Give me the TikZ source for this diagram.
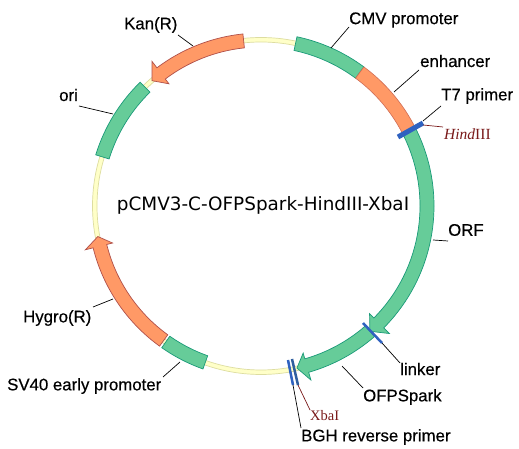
\documentclass[tikz,border=0pt]{standalone}
\usepackage{fontspec}
\setmainfont{Liberation Sans}
\newfontfamily\labfont{Liberation Sans}[FakeBold=0.4]
\newfontfamily\serifrm{Liberation Serif}
\newfontfamily\titlefont{DejaVu Sans}
\definecolor{gfill}{HTML}{66CC99}
\definecolor{gline}{HTML}{1A9A78}
\definecolor{ofill}{HTML}{FF9966}
\definecolor{oline}{HTML}{B0504A}
\definecolor{yfill}{HTML}{FFFFC8}
\definecolor{yline}{HTML}{DDDDA0}
\definecolor{site}{HTML}{7A1A1A}
\definecolor{blueA}{HTML}{2F62C0}
\definecolor{blueB}{HTML}{2F5F9F}
\tikzset{
  lab/.style={anchor=west,inner sep=0pt,font=\labfont\fontsize{16.8}{18}\selectfont,text=black},
  sitelab/.style={anchor=west,inner sep=0pt,text=site},
  leader/.style={draw=black,line width=0.7pt},
  siteline/.style={draw=site,line width=0.7pt},
  gband/.style={fill=gfill,draw=gline,line width=0.7pt},
  oband/.style={fill=ofill,draw=oline,line width=0.7pt},
  primer/.style={line width=5pt}
}
\newcommand{\myband}[3]{\path[#3] (#1:173) arc[start angle=#1,end angle=#2,radius=173pt] -- (#2:159) arc[start angle=#2,end angle=#1,radius=159pt] -- cycle;}
\newcommand{\myarrow}[4]{\path[#4] (#1:173) arc[start angle=#1,end angle=#2,radius=173pt] -- (#2:181) -- (#3:166) -- (#2:153) -- (#2:159) arc[start angle=#2,end angle=#1,radius=159pt] -- cycle;}
\begin{document}
\begin{tikzpicture}[x=1pt,y=1pt]
\useasboundingbox[fill=white] (0,0) rectangle (519,449);
\begin{scope}[shift={(261,243)}]
  \path[fill=yfill,draw=yline,line width=0.7pt,even odd rule] (0,0) circle[radius=168.5pt] (0,0) circle[radius=164pt];
  \myband{78}{53.5}{gband}
  \myband{53.5}{27}{fill=ofill,draw=oline!60!ofill,line width=0.6pt}
  \myarrow{27}{-44.8}{-49}{gband}
  \myarrow{-49}{-74}{-77.5}{gband}
  \myarrow{96}{127}{131}{oband}
  \myband{134.3}{162.8}{gband}
  \myarrow{234.1}{194}{190.6}{oband}
  \myband{235}{250.4}{gband}
\end{scope}
\coordinate (t7a) at (398,312);
\coordinate (t7b) at (423,326);
\coordinate (lka) at (363,126);
\coordinate (lkb) at (382,106);
\coordinate (bgha) at (288,89);
\coordinate (bghb) at (293,64);
\coordinate (xbaa) at (292,90);
\coordinate (xbab) at (298,64);
\draw[primer,blueA] (t7a) -- (t7b);
\draw[line width=2.5pt,blueA] (lka) -- (lkb);
\draw[line width=2.5pt,blueA] (bgha) -- (bghb);
\draw[line width=2.5pt,blueB] (xbaa) -- (xbab);
\node[lab] (lcmv) at (349,429) {CMV promoter};
\node[lab] (lenh) at (420,388) {enhancer};
\node[lab] (lt7) at (441,353) {T7 primer};
\node[sitelab,font=\serifrm\fontsize{15.5}{17}\selectfont] (lhind) at (444,315) {\textit{Hind}III};
\node[lab] (lorf) at (448,219) {ORF};
\node[lab] (llink) at (400,80) {linker};
\node[lab] (lofp) at (363,52) {OFPSpark};
\node[sitelab,font=\serifrm\fontsize{14.5}{16}\selectfont] (lxba) at (310,33) {XbaI};
\node[lab] (lbgh) at (301,12) {BGH reverse primer};
\node[lab] (lkan) at (124,424) {Kan(R)};
\node[lab] (lori) at (59,354) {ori};
\node[lab] (lhyg) at (23,131) {Hygro(R)};
\node[lab] (lsv) at (7,63) {SV40 early promoter};
\node[anchor=center,inner sep=0pt,font=\titlefont\fontsize{18.4}{20}\selectfont] (ltitle) at (263,244) {pCMV3-C-OFPSpark-HindIII-XbaI};
\coordinate (a1) at (349,422); \coordinate (b1) at (331,401);
\coordinate (a2) at (419,379); \coordinate (b2) at (394,357);
\coordinate (a3) at (441,343); \coordinate (b3) at (423,328);
\coordinate (a4) at (423,324); \coordinate (b4) at (443,322);
\coordinate (a5) at (448,208); \coordinate (b5) at (433,209);
\coordinate (a6) at (400,86);  \coordinate (b6) at (382,106);
\coordinate (a7) at (363,61);  \coordinate (b7) at (342,83);
\coordinate (a8) at (310,39);  \coordinate (b8) at (298,64);
\coordinate (a9) at (301,21);  \coordinate (b9) at (293,64);
\coordinate (a10) at (178,414); \coordinate (b10) at (193,403);
\coordinate (a11) at (79,343);  \coordinate (b11) at (113,335);
\coordinate (a12) at (93,142);  \coordinate (b12) at (113,150);
\coordinate (a13) at (163,72);  \coordinate (b13) at (180,87);
\draw[leader] (a1) -- (b1);
\draw[leader] (a2) -- (b2);
\draw[leader] (a3) -- (b3);
\draw[siteline] (a4) -- (b4);
\draw[leader] (a5) -- (b5);
\draw[leader] (a6) -- (b6);
\draw[leader] (a7) -- (b7);
\draw[siteline] (a8) -- (b8);
\draw[leader] (a9) -- (b9);
\draw[leader] (a10) -- (b10);
\draw[leader] (a11) -- (b11);
\draw[leader] (a12) -- (b12);
\draw[leader] (a13) -- (b13);
\end{tikzpicture}
\end{document}
